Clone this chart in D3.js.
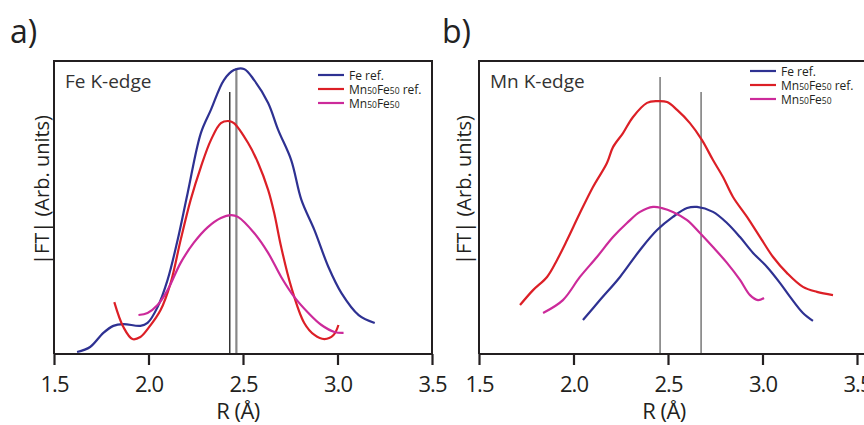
<!DOCTYPE html>
<html>
<head>
<meta charset="utf-8">
<script src="https://cdn.jsdelivr.net/npm/d3@7"></script>
<style>
  body { margin: 0; background: #fff; }
  svg { font-family: "Open Sans", "Noto Sans", sans-serif; }
</style>
</head>
<body>
<svg id="drawing_region"></svg>
<script>
// x ticks shared by both panels
const xTicks = [1.5, 2.0, 2.5, 3.0, 3.5];

// panel a) Fe K-edge, [R, |FT|]
const feEdgeFeRef = [
    [1.622, 0.007], [1.691, 0.024], [1.761, 0.072], [1.814, 0.096], [1.867, 0.102],
    [1.957, 0.096], [1.995, 0.106], [2.048, 0.160], [2.101, 0.253], [2.154, 0.389],
    [2.207, 0.549], [2.277, 0.754], [2.330, 0.833], [2.399, 0.935], [2.452, 0.969],
    [2.505, 0.973], [2.559, 0.935], [2.633, 0.857], [2.686, 0.765], [2.755, 0.662],
    [2.809, 0.526], [2.878, 0.423], [2.952, 0.297], [3.021, 0.208], [3.112, 0.133],
    [3.197, 0.106]
];
const feEdgeAlloyRef = [
    [1.819, 0.177], [1.867, 0.092], [1.915, 0.051], [1.957, 0.058], [2.000, 0.089],
    [2.064, 0.150], [2.117, 0.242], [2.170, 0.389], [2.223, 0.526], [2.277, 0.638],
    [2.330, 0.730], [2.383, 0.788], [2.426, 0.795], [2.452, 0.788], [2.527, 0.720],
    [2.580, 0.652], [2.633, 0.560], [2.665, 0.481], [2.702, 0.365], [2.755, 0.229],
    [2.824, 0.106], [2.878, 0.065], [2.931, 0.051], [2.979, 0.065], [3.005, 0.099]
];
const feEdgeAlloy = [
    [1.947, 0.133], [1.995, 0.140], [2.048, 0.167], [2.101, 0.218], [2.170, 0.311],
    [2.239, 0.379], [2.314, 0.433], [2.383, 0.464], [2.436, 0.474], [2.473, 0.468],
    [2.559, 0.413], [2.633, 0.345], [2.702, 0.263], [2.771, 0.195], [2.846, 0.140],
    [2.915, 0.099], [2.984, 0.075], [3.032, 0.072]
];
const feEdgeMarkers = [[2.430, 0.894], [2.465, 0.976]];

// panel b) Mn K-edge
const mnEdgeFeRef = [
    [2.050, 0.116], [2.140, 0.184], [2.246, 0.263], [2.352, 0.355], [2.442, 0.423],
    [2.526, 0.468], [2.601, 0.498], [2.653, 0.502], [2.738, 0.485], [2.812, 0.447],
    [2.881, 0.399], [2.950, 0.345], [3.024, 0.297], [3.093, 0.242], [3.146, 0.195],
    [3.214, 0.140], [3.267, 0.113]
];
const mnEdgeAlloyRef = [
    [1.717, 0.167], [1.786, 0.218], [1.860, 0.263], [1.913, 0.321], [1.966, 0.389],
    [2.034, 0.481], [2.103, 0.570], [2.177, 0.652], [2.209, 0.706], [2.262, 0.754],
    [2.315, 0.809], [2.389, 0.857], [2.442, 0.863], [2.495, 0.860], [2.548, 0.833],
    [2.616, 0.788], [2.680, 0.730], [2.738, 0.662], [2.791, 0.604], [2.844, 0.536],
    [2.918, 0.468], [2.987, 0.399], [3.056, 0.331], [3.130, 0.276], [3.214, 0.229],
    [3.288, 0.212], [3.373, 0.201]
];
const mnEdgeAlloy = [
    [1.839, 0.140], [1.944, 0.184], [2.034, 0.263], [2.124, 0.331], [2.209, 0.399],
    [2.283, 0.447], [2.352, 0.485], [2.421, 0.502], [2.468, 0.498], [2.526, 0.485],
    [2.601, 0.457], [2.669, 0.413], [2.738, 0.365], [2.812, 0.311], [2.881, 0.253],
    [2.934, 0.201], [2.976, 0.184], [3.008, 0.191]
];
const mnEdgeMarkers = [[2.458, 0.945], [2.675, 0.894]];

const seriesColors = ['#2e3192', '#dc1f26', '#cc2a9a'];

const svg = d3.select('#drawing_region')
    .attr('width', 864)
    .attr('height', 425);

drawPanel({
    letter: 'a)', letterX: 10,
    left: 54, right: 432, width: 378,
    edge: 'Fe K-edge',
    series: [feEdgeFeRef, feEdgeAlloyRef, feEdgeAlloy],
    markers: feEdgeMarkers,
    markerColors: ['#1a1a1a', '#888'],
    markerWidths: [1.3, 2.2],
    legendX: 318, legendY: 75, legendStep: 14,
    ylabelX: 49, xlabelX: 238,
    closeRight: true
});

drawPanel({
    letter: 'b)', letterX: 442,
    left: 479, right: 870, width: 378,
    edge: 'Mn K-edge',
    series: [mnEdgeFeRef, mnEdgeAlloyRef, mnEdgeAlloy],
    markers: mnEdgeMarkers,
    markerColors: ['#555', '#555'],
    markerWidths: [1.2, 1.2],
    legendX: 750, legendY: 71, legendStep: 14,
    ylabelX: 471, xlabelX: 664,
    closeRight: false
});

function drawPanel(c) {
    const top = 61, bottom = 354;

    const xscale = d3.scaleLinear()
        .domain([1.5, 3.5])
        .range([c.left, c.left + c.width]);
    const yscale = d3.scaleLinear()
        .domain([0, 1])
        .range([bottom, top]);

    const g = svg.append('g');

    g.append('text')
        .attr('x', c.letterX)
        .attr('y', 43)
        .attr('font-size', 32)
        .attr('fill', '#222')
        .text(c.letter);

    // frame: left, top, right edges
    const frame = `M${c.left},${bottom} L${c.left},${top} L${c.right},${top}` +
        (c.closeRight ? ` L${c.right},${bottom}` : '');
    g.append('path')
        .attr('d', frame)
        .attr('fill', 'none')
        .attr('stroke', '#231f20')
        .attr('stroke-width', 2);

    // marker lines
    c.markers.forEach((m, i) => {
        g.append('line')
            .attr('x1', xscale(m[0])).attr('x2', xscale(m[0]))
            .attr('y1', yscale(0)).attr('y2', yscale(m[1]))
            .attr('stroke', c.markerColors[i])
            .attr('stroke-width', c.markerWidths[i]);
    });

    const line = d3.line()
        .x(d => xscale(d[0]))
        .y(d => yscale(d[1]))
        .curve(d3.curveCatmullRom.alpha(0.5));

    g.selectAll('path.curve')
        .data(c.series)
        .enter()
        .append('path')
        .attr('class', 'curve')
        .attr('d', line)
        .attr('fill', 'none')
        .attr('stroke', (d, i) => seriesColors[i])
        .attr('stroke-width', 2.2);

    // x axis
    const xaxis = d3.axisBottom(xscale)
        .tickValues(xTicks)
        .tickFormat(d3.format('.1f'))
        .tickSize(11)
        .tickSizeOuter(0)
        .tickPadding(11);
    const axisGroup = g.append('g')
        .attr('transform', `translate(0, ${bottom})`)
        .call(xaxis);
    axisGroup.select('.domain')
        .attr('stroke', '#231f20')
        .attr('stroke-width', 2)
        .attr('d', `M${c.left},0 H${Math.min(c.right, 866)}`);
    axisGroup.selectAll('.tick line')
        .attr('stroke', '#231f20')
        .attr('stroke-width', 2.2);
    axisGroup.selectAll('.tick text')
        .attr('font-size', 22)
        .attr('letter-spacing', -1)
        .attr('fill', '#231f20')
        .attr('font-family', '"Open Sans", sans-serif');

    g.append('text')
        .attr('x', c.xlabelX)
        .attr('y', 419)
        .attr('text-anchor', 'middle')
        .attr('font-size', 22)
        .attr('letter-spacing', -0.5)
        .attr('fill', '#231f20')
        .text('R (Å)');

    g.append('text')
        .attr('transform', `translate(${c.ylabelX}, 190) rotate(-90)`)
        .attr('text-anchor', 'middle')
        .attr('font-size', 20)
        .attr('fill', '#231f20')
        .text('|FT| (Arb. units)');

    g.append('text')
        .attr('x', c.left + 11)
        .attr('y', 88)
        .attr('font-size', 19)
        .attr('fill', '#333')
        .text(c.edge);

    // legend
    const names = [['Fe ref.'], ['Mn', '50', 'Fe', '50', ' ref.'], ['Mn', '50', 'Fe', '50']];
    names.forEach((parts, i) => {
        const y = c.legendY + i * c.legendStep;
        g.append('line')
            .attr('x1', c.legendX).attr('x2', c.legendX + 26)
            .attr('y1', y).attr('y2', y)
            .attr('stroke', seriesColors[i])
            .attr('stroke-width', 2.2);
        const t = g.append('text')
            .attr('x', c.legendX + 31)
            .attr('y', y + 4.5)
            .attr('font-size', 12)
            .attr('fill', '#231f20');
        parts.forEach((p, j) => {
            t.append('tspan')
                .attr('font-size', j % 2 === 1 && j < 4 ? 8.5 : 12)
                .text(p);
        });
    });
}
</script>
</body>
</html>
